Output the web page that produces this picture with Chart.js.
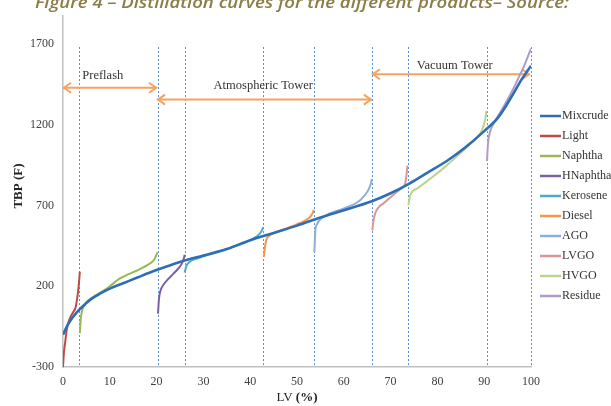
<!DOCTYPE html>
<html><head><meta charset="utf-8">
<script src="https://cdn.jsdelivr.net/npm/chart.js@4/dist/chart.umd.min.js"></script>
<style>html,body{margin:0;padding:0;background:#fff}</style>
</head><body>
<canvas id="c" width="611" height="406"></canvas>
<script>
// ---- Data ----
const seriesNames = ['Mixcrude','Light','Naphtha','HNaphtha','Kerosene','Diesel','AGO','LVGO','HVGO','Residue'];
const seriesColors = ['#2f6eb5','#be4b48','#98b954','#7d60a0','#4aacc5','#f79646','#8eaedb','#d99694','#bcd48f','#ae9cc8'];

const mixcrudeLV  = [0,1,2,3,4,6,8,10,13,16,20,25,30,35,40,45,50,55,60,66,70,74,78,82,86,90,93,96,98,100];
const mixcrudeTBP = [-100,-40,5,40,70,120,155,185,220,255,300,350,390,430,485,530,575,625,670,726,775,835,905,975,1060,1160,1245,1380,1480,1565];
const lightLV  = [0,0.2,0.45,0.8,1.2,1.6,2.2,2.7,3.1,3.35,3.6];
const lightTBP = [-300,-210,-150,-70,-20,10,40,70,140,200,290];
const naphthaLV  = [3.6,3.8,4.1,5,6.5,8,10,12,14,16,18,19.5,20.2];
const naphthaTBP = [-90,0,50,100,135,160,200,245,275,300,330,365,410];
const hnaphthaLV  = [20.3,20.5,20.8,21.5,22.5,23.5,24.5,25.3,25.8,26];
const hnaphthaTBP = [30,120,170,210,245,275,305,335,370,395];
const keroseneLV  = [26,26.3,27,28.5,31,34,37,40,41.5,42.3,42.8];
const keroseneTBP = [285,320,350,370,395,420,450,485,510,535,565];
const dieselLV  = [42.9,43.1,43.4,44,45.5,48,50.5,52.5,53.3,53.6];
const dieselTBP = [380,430,485,510,533,560,590,620,650,672];
const agoLV  = [53.7,53.8,53.9,54.3,55,57,59.9,63.5,65.2,65.8,66];
const agoTBP = [410,470,538,585,615,650,680,732,793,835,864];
const lvgoLV  = [66.1,66.3,66.7,67.5,68.4,70,71.3,72.5,73.1,73.4,73.6];
const lvgoTBP = [545,600,650,690,711,750,783,810,833,890,946];
const hvgoLV  = [73.8,74.1,74.6,75.6,78.4,81.7,84,86.6,88.4,89.5,90.2,90.5];
const hvgoTBP = [700,752,785,803,864,940,1000,1067,1119,1165,1230,1285];
const residueLV  = [90.6,90.8,91.2,92,93,94.5,96,97.5,98.5,99.3,100];
const residueTBP = [975,1080,1150,1205,1255,1330,1410,1500,1560,1620,1670];

const seriesLV  = [mixcrudeLV,lightLV,naphthaLV,hnaphthaLV,keroseneLV,dieselLV,agoLV,lvgoLV,hvgoLV,residueLV];
const seriesTBP = [mixcrudeTBP,lightTBP,naphthaTBP,hnaphthaTBP,keroseneTBP,dieselTBP,agoTBP,lvgoTBP,hvgoTBP,residueTBP];

const cutPointsLV = [3.5,20.2,26,42.8,53.7,66,73.8,90.6,100];
const cutTopTBP = 1680;

const sectionNames = ['Preflash','Atmospheric Tower','Vacuum Tower'];
const sectionFromLV = [0,20.1,66];
const sectionToLV   = [20.1,66,99.8];
const sectionTBP    = [1428,1355,1512];
const sectionLabelLV  = [8.5,42.8,83.7];
const sectionLabelTBP = [1500,1440,1562];

const yTicks = [-300,200,700,1200,1700];
const xTitle = ['LV ','(%)'];
const yTitle = 'TBP (F)';
const figureTitle = 'Figure 4 \u2013 Distillation curves for the different products\u2013 Source:';

// ---- Chart ----
const datasets = seriesNames.map((name,i)=>({
  label:name,
  data: seriesLV[i].map((x,j)=>({x:x,y:seriesTBP[i][j]})),
  borderColor: seriesColors[i],
  backgroundColor: seriesColors[i],
  borderWidth: i===0 ? 2.6 : 2,
  pointRadius: 0,
  fill:false,
  cubicInterpolationMode:'monotone'
}));

const SERIF = "'Liberation Serif', 'Times New Roman', serif";

const decor = {
  id:'decor',
  beforeDatasetsDraw(chart){
    const ctx = chart.ctx, xs = chart.scales.x, ys = chart.scales.y;
    ctx.save();
    // vertical cut lines
    ctx.strokeStyle = '#5a8fd4';
    ctx.lineWidth = 1;
    ctx.setLineDash([2,2]);
    cutPointsLV.forEach(v=>{
      const px = Math.round(xs.getPixelForValue(v))+0.5;
      ctx.beginPath();
      ctx.moveTo(px, ys.getPixelForValue(cutTopTBP));
      ctx.lineTo(px, ys.getPixelForValue(-300));
      ctx.stroke();
    });
    ctx.setLineDash([]);
    // section arrows
    ctx.strokeStyle = '#f6a35e';
    ctx.lineWidth = 2;
    sectionNames.forEach((n,i)=>{
      const x0 = xs.getPixelForValue(sectionFromLV[i]);
      const x1 = xs.getPixelForValue(sectionToLV[i]);
      const y = ys.getPixelForValue(sectionTBP[i]);
      ctx.beginPath(); ctx.moveTo(x0,y); ctx.lineTo(x1,y); ctx.stroke();
      ctx.beginPath(); ctx.moveTo(x0+8,y-5); ctx.lineTo(x0+1,y); ctx.lineTo(x0+8,y+5); ctx.stroke();
      ctx.beginPath(); ctx.moveTo(x1-8,y-5); ctx.lineTo(x1-1,y); ctx.lineTo(x1-8,y+5); ctx.stroke();
      ctx.fillStyle = '#333';
      ctx.font = '12.5px ' + SERIF;
      ctx.textAlign = 'center'; ctx.textBaseline = 'middle';
      ctx.fillText(n, xs.getPixelForValue(sectionLabelLV[i]), ys.getPixelForValue(sectionLabelTBP[i]));
    });
    ctx.restore();
  },
  afterDraw(chart){
    const ctx = chart.ctx, area = chart.chartArea;
    ctx.save();
    // figure title (cut at top)
    ctx.fillStyle = '#8b7d47';
    ctx.font = "italic 600 17px 'Open Sans', sans-serif";
    ctx.textAlign = 'left'; ctx.textBaseline = 'alphabetic';
    const w = ctx.measureText(figureTitle).width;
    ctx.save();
    ctx.translate(35, 8);
    ctx.scale(534 / w, 1);
    ctx.fillText(figureTitle, 0, 0);
    ctx.restore();
    // y title
    ctx.fillStyle = '#222';
    ctx.font = 'bold 13px ' + SERIF;
    ctx.save();
    ctx.translate(19, 186);
    ctx.rotate(-Math.PI/2);
    ctx.textAlign = 'center'; ctx.textBaseline = 'middle';
    ctx.fillText(yTitle, 0, 0);
    ctx.restore();
    // x title with bold unit
    ctx.font = '13px ' + SERIF;
    const w1 = ctx.measureText(xTitle[0]).width;
    ctx.font = 'bold 13px ' + SERIF;
    const w2 = ctx.measureText(xTitle[1]).width;
    const cx = (area.left + area.right)/2;
    let sx = cx - (w1+w2)/2;
    ctx.textAlign = 'left'; ctx.textBaseline = 'middle';
    ctx.font = '13px ' + SERIF;
    ctx.fillText(xTitle[0], sx, 398);
    ctx.font = 'bold 13px ' + SERIF;
    ctx.fillText(xTitle[1], sx + w1, 398);
    // legend
    ctx.font = '12px ' + SERIF;
    ctx.textBaseline = 'middle';
    chart.data.datasets.forEach((ds,i)=>{
      const y = 116 + i*20;
      ctx.strokeStyle = ds.borderColor;
      ctx.lineWidth = 2.5;
      ctx.beginPath(); ctx.moveTo(540,y); ctx.lineTo(561,y); ctx.stroke();
      ctx.fillStyle = '#333';
      ctx.fillText(ds.label, 562, y);
    });
    ctx.restore();
  }
};

const tickFont = {family: SERIF, size: 12};
new Chart(document.getElementById('c'), {
  type:'line',
  data:{datasets},
  options:{
    responsive:false,
    animation:false,
    devicePixelRatio:1,
    layout:{padding:{left:0,right:80,top:12,bottom:0}},
    plugins:{legend:{display:false},title:{display:false},tooltip:{enabled:false}},
    scales:{
      x:{type:'linear',min:0,max:100,
         ticks:{stepSize:10,font:tickFont,color:'#404040',padding:8,maxRotation:0,callback:v=>String(v)},
         grid:{display:false,drawTicks:false},
         border:{color:'#c0c0c0',width:1.5},
         afterFit(s){s.height=39;}},
      y:{type:'linear',min:-300,max:1871,
         afterBuildTicks(s){s.ticks = yTicks.map(v=>({value:v}));},
         ticks:{font:tickFont,color:'#404040',padding:9,callback:v=>String(v)},
         grid:{display:false,drawTicks:false},
         border:{color:'#c0c0c0',width:1.5},
         afterFit(s){s.width=63;}}
    }
  },
  plugins:[decor]
});
</script>
</body></html>
